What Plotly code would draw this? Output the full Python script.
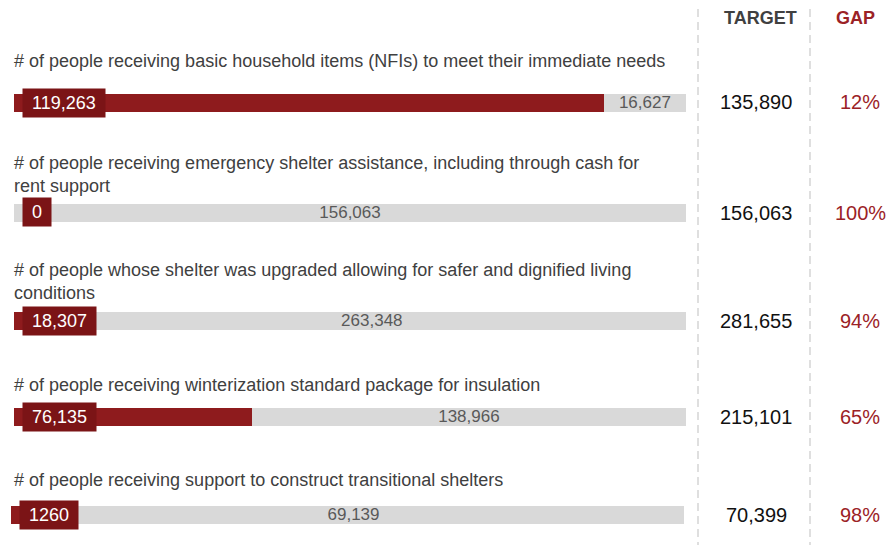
import plotly.graph_objects as go

# ---------------- data ----------------
indicators = [
    "# of people receiving basic household items (NFIs) to meet their immediate needs",
    "# of people receiving emergency shelter assistance, including through cash for<br>rent support",
    "# of people whose shelter was upgraded allowing for safer and dignified living<br>conditions",
    "# of people receiving winterization standard package for insulation",
    "# of people receiving support to construct transitional shelters",
]
achieved = [119263, 0, 18307, 76135, 1260]
achieved_labels = ["119,263", "0", "18,307", "76,135", "1260"]
remaining = [16627, 156063, 263348, 138966, 69139]
remaining_labels = ["16,627", "156,063", "263,348", "138,966", "69,139"]
targets = [135890, 156063, 281655, 215101, 70399]
target_labels = ["135,890", "156,063", "281,655", "215,101", "70,399"]
gap_labels = ["12%", "100%", "94%", "65%", "98%"]

# ---------------- layout constants (pixels) ----------------
W, H = 887, 545
row_centers = [102.5, 212.5, 320.5, 416.5, 514.5]
label_centers = [61, 174, 281, 385, 480]
bar_x0 = [14, 14, 14, 14, 11]
bar_x1 = [686, 686, 686, 686, 684]
half = 15
bar_px = 18

RED = "#8E1B1D"
BOX = "#7B1416"
GREY = "#D9D9D9"
FONT = "Liberation Sans, Arial, sans-serif"


def py(p):
    return 1 - p / H


def px(p):
    return p / W


fig = go.Figure()
annotations = []
layout_axes = {}

for i in range(len(indicators)):
    n = "" if i == 0 else str(i + 1)
    xa, ya = "x" + n, "y" + n
    fig.add_trace(go.Bar(
        x=[achieved[i]], y=[0], orientation="h", xaxis=xa, yaxis=ya,
        marker=dict(color=RED, line=dict(width=0)), width=bar_px / (2 * half),
        showlegend=False, hoverinfo="x",
    ))
    fig.add_trace(go.Bar(
        x=[remaining[i]], y=[0], orientation="h", xaxis=xa, yaxis=ya,
        marker=dict(color=GREY, line=dict(width=0)), width=bar_px / (2 * half),
        text=[remaining_labels[i]], textposition="inside", insidetextanchor="middle",
        textfont=dict(color="#595959", size=17, family=FONT), constraintext="none",
        showlegend=False, hoverinfo="x",
    ))
    layout_axes["xaxis" + n] = dict(
        domain=[px(bar_x0[i]), px(bar_x1[i])], range=[0, targets[i]],
        anchor=ya, visible=False, fixedrange=True,
    )
    layout_axes["yaxis" + n] = dict(
        domain=[py(row_centers[i] + half), py(row_centers[i] - half)], range=[-0.5, 0.5],
        anchor=xa, visible=False, fixedrange=True,
    )
    # achieved value box
    annotations.append(dict(
        x=0, y=0, xref=xa, yref=ya, xanchor="left", yanchor="middle", xshift=8,
        text="\u00a0" + achieved_labels[i] + "\u00a0", showarrow=False,
        bgcolor=BOX, borderpad=4, font=dict(color="white", size=18, family=FONT),
    ))
    # indicator label
    annotations.append(dict(
        x=px(12), y=py(label_centers[i]), xref="paper", yref="paper",
        xanchor="left", yanchor="middle", align="left", text=indicators[i],
        showarrow=False, font=dict(color="#404040", size=18, family=FONT),
    ))
    # target
    annotations.append(dict(
        x=px(756), y=py(row_centers[i]), xref="paper", yref="paper",
        xanchor="center", yanchor="middle", text=target_labels[i], showarrow=False,
        font=dict(color="#111111", size=20, family=FONT),
    ))
    # gap
    annotations.append(dict(
        x=px(860), y=py(row_centers[i]), xref="paper", yref="paper",
        xanchor="center", yanchor="middle", text=gap_labels[i], showarrow=False,
        font=dict(color="#9B2226", size=20, family=FONT),
    ))

annotations.append(dict(
    x=px(760), y=py(18), xref="paper", yref="paper", xanchor="center", yanchor="middle",
    text="<b>TARGET</b>", showarrow=False, font=dict(color="#404040", size=18, family=FONT),
))
annotations.append(dict(
    x=px(855), y=py(18), xref="paper", yref="paper", xanchor="center", yanchor="middle",
    text="<b>GAP</b>", showarrow=False, font=dict(color="#9B2226", size=18, family=FONT),
))

shapes = []
for lx in [698, 810]:
    shapes.append(dict(
        type="line", xref="paper", yref="paper", x0=px(lx), x1=px(lx), y0=py(9), y1=0,
        line=dict(color="#BFBFBF", width=1, dash="8px,5px"),
    ))

fig.update_layout(
    width=W, height=H, margin=dict(l=0, r=0, t=0, b=0),
    paper_bgcolor="white", plot_bgcolor="white",
    barmode="stack", showlegend=False,
    annotations=annotations, shapes=shapes,
    font=dict(family=FONT),
    **layout_axes,
)

fig.write_html(
    "out.html",
    config={"displayModeBar": False},
    post_script="document.body.style.margin='0';document.body.style.padding='0';",
)
